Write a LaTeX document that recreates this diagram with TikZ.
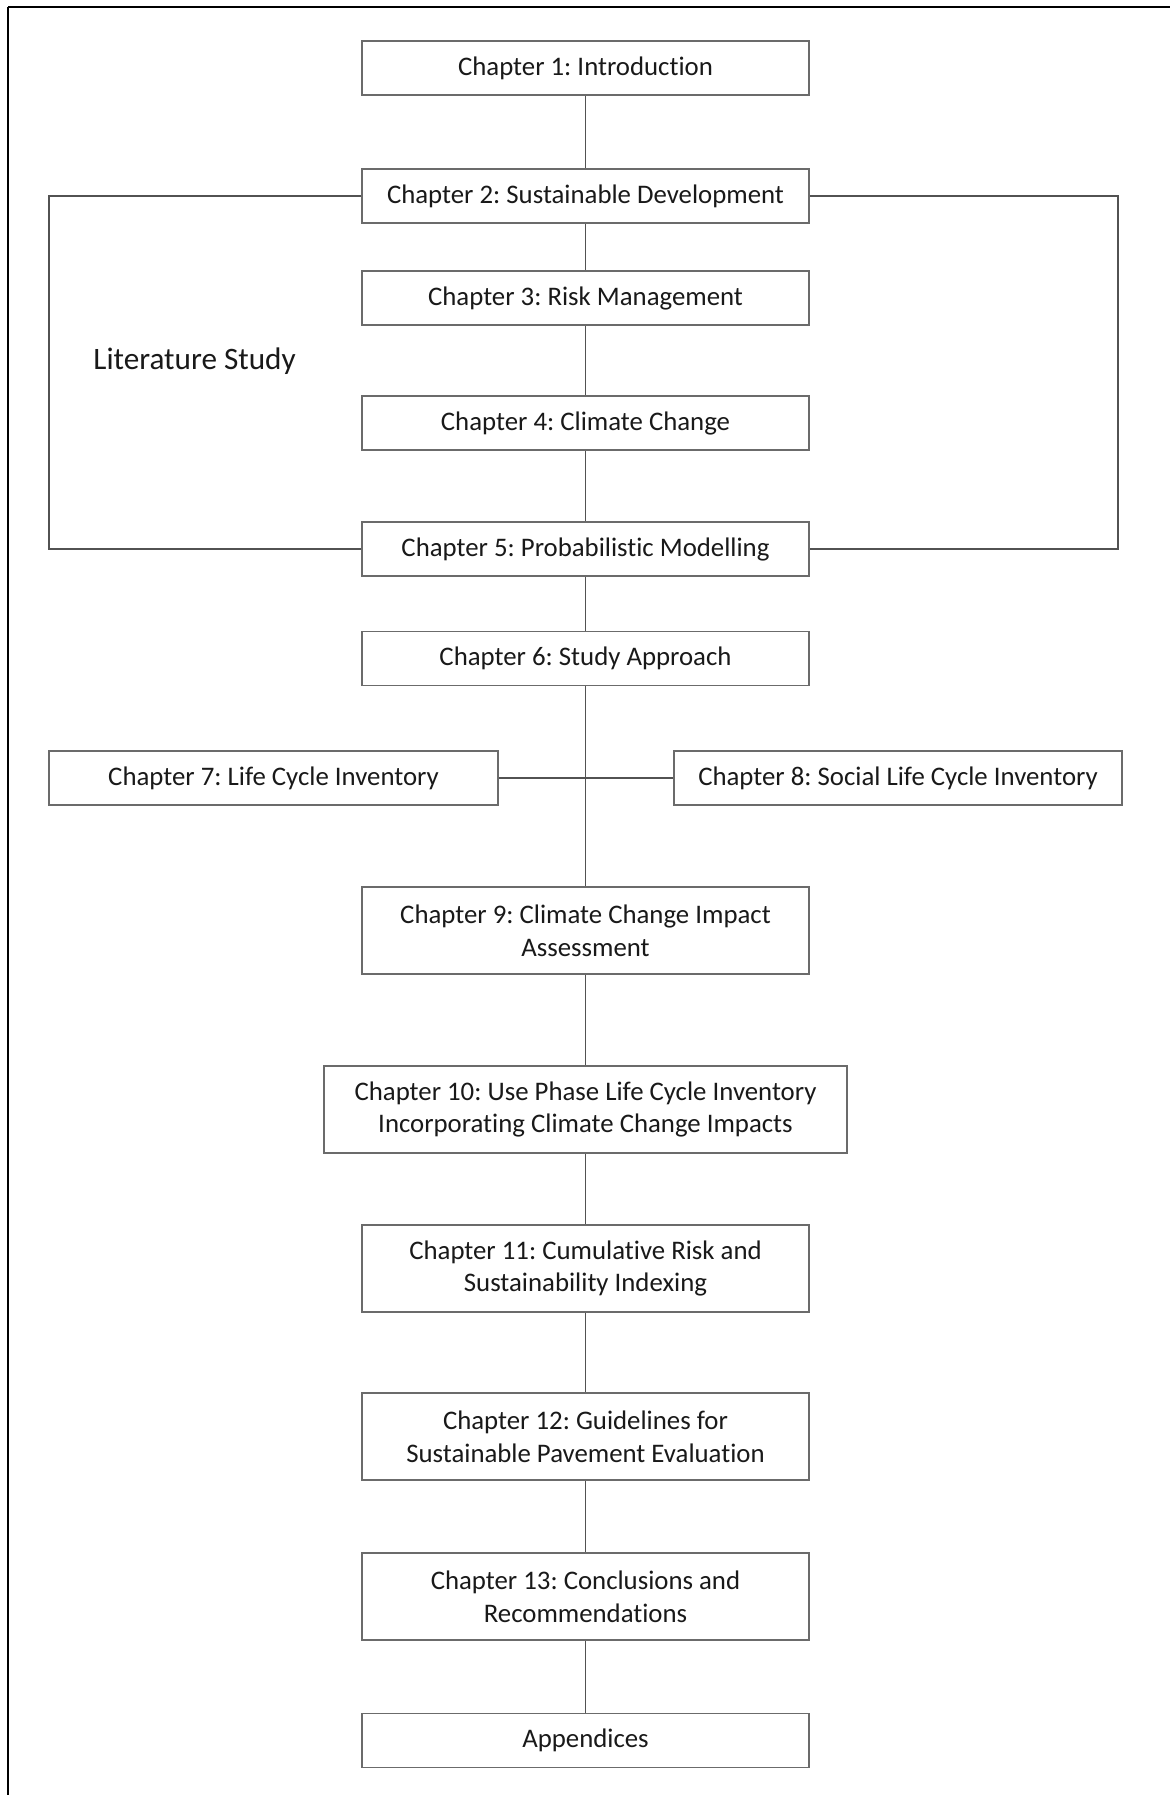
\documentclass[tikz,border=0pt]{standalone}
\usepackage{fontspec}
\setmainfont{Carlito}[Ligatures=NoCommon]
\frenchspacing
\begin{document}
\begin{tikzpicture}[x=0.5pt,y=-0.5pt,
  chapbox/.style={draw=black!58, line width=0.8pt, fill=white, inner sep=0pt,
    minimum width=223.5pt, minimum height=27pt, align=center, text=black!90,
    font=\fontsize{13.4}{16.4}\selectfont},
  tallbox/.style={chapbox, minimum height=43.5pt},
  link/.style={draw=black!68, line width=0.8pt},
  frameline/.style={draw=black, line width=1.1pt}]
\useasboundingbox (0,0) rectangle (1170,1795);
% page frame: top and left edges only
\draw[frameline] (8,6.7) -- (1170,6.7);
\draw[frameline] (8,6.7) -- (8,1795);

% chapter boxes
\node[chapbox] (c1) at (585.5,68) {Chapter 1: Introduction};
\node[chapbox] (c2) at (585.5,196) {Chapter 2: Sustainable Development};
\node[chapbox] (c3) at (585.5,298) {Chapter 3: Risk Management};
\node[chapbox] (c4) at (585.5,423) {Chapter 4: Climate Change};
\node[chapbox] (c5) at (585.5,549) {Chapter 5: Probabilistic Modelling};
\node[chapbox] (c6) at (585.5,658.5) {Chapter 6: Study Approach};
\node[chapbox, minimum width=224.5pt] (c7) at (273.5,778) {Chapter 7: Life Cycle Inventory};
\node[chapbox, minimum width=224pt] (c8) at (898,778) {Chapter 8: Social Life Cycle Inventory};
\node[tallbox] (c9) at (585.5,930.5) {Chapter 9: Climate Change Impact\\Assessment};
\node[tallbox, minimum width=261.5pt] (c10) at (585.5,1109.5) {Chapter 10: Use Phase Life Cycle Inventory\\Incorporating Climate Change Impacts};
\node[tallbox] (c11) at (585.5,1268.5) {Chapter 11: Cumulative Risk and\\Sustainability Indexing};
\node[tallbox] (c12) at (585.5,1436.5) {Chapter 12: Guidelines for\\Sustainable Pavement Evaluation};
\node[tallbox] (c13) at (585.5,1596.5) {Chapter 13: Conclusions and\\Recommendations};
\node[chapbox] (app) at (585.5,1740.5) {Appendices};

% bracket label
\node[anchor=base west, inner sep=0pt, text=black!90,
  font=\fontsize{15.6}{19}\selectfont] (lit) at (93,369) {Literature Study};

% spine
\draw[link] (c1) -- (c2);
\draw[link] (c2) -- (c3);
\draw[link] (c3) -- (c4);
\draw[link] (c4) -- (c5);
\draw[link] (c5) -- (c6);
\draw[link] (c6) -- (c9);
\draw[link] (c9) -- (c10);
\draw[link] (c10) -- (c11);
\draw[link] (c11) -- (c12);
\draw[link] (c12) -- (c13);
\draw[link] (c13) -- (app);
\draw[link] (c7.east) -- (c8.west);

% literature study bracket
\coordinate (lx) at (49,0);
\coordinate (rx) at (1118,0);
\draw[link] (c2.west) -- (c2.west -| lx) -- (c5.west -| lx) -- (c5.west);
\draw[link] (c2.east) -- (c2.east -| rx) -- (c5.east -| rx) -- (c5.east);
\end{tikzpicture}
\end{document}
